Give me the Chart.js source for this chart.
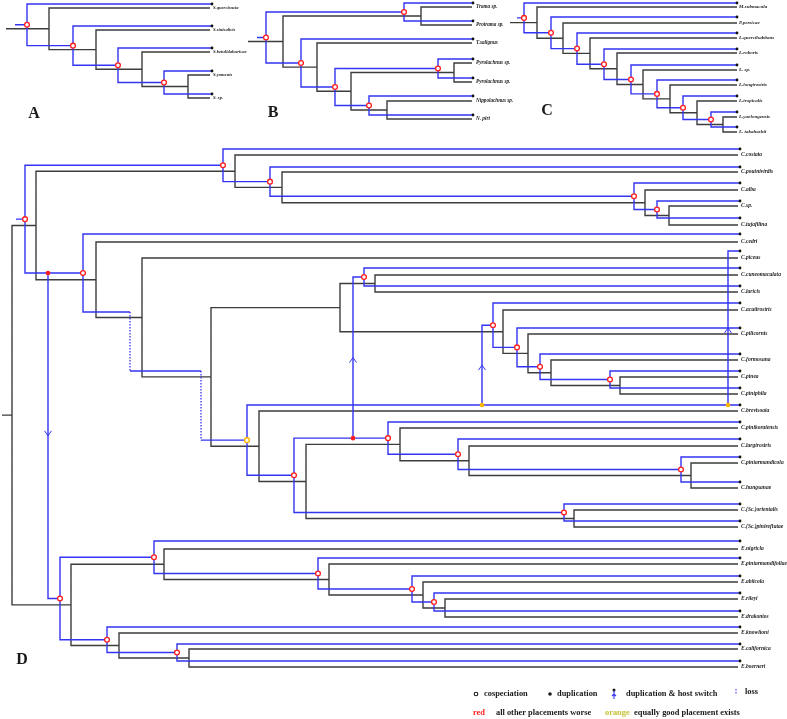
<!DOCTYPE html>
<html>
<head>
<meta charset="utf-8">
<script src="https://cdn.jsdelivr.net/npm/chart.js@4.4.0/dist/chart.umd.min.js"></script>
<style>
  html, body { margin: 0; padding: 0; background: #fff; }
  #wrap { width: 787px; height: 719px; }
</style>
</head>
<body>
<div id="wrap"><canvas id="tree" width="787" height="719"></canvas></div>
<script>
// --- Panel A ---
const aLeaves = ['S.quercisucta', 'S.sinisalicis', 'S.betulidahuricae', 'S.yomenis', 'S. sp.'];
const aHostY = [8, 30, 52, 75, 98];
const aParaY = [4, 26, 48, 71, 94];
// host tree: [nodeX, child, child]  (number = leaf index)
const aHostTree = [49, 0, [96, 1, [142, 2, [188, 3, 4]]]];
// parasite tree: [event, nodeX, child, child]
//   c = cospeciation, o = cospeciation (equally good), d = duplication & host switch,
//   s = duplication & host switch (equally good), l = loss [l, x, y, child]
const aParaTree = ['c', 27, 0, ['c', 73, 1, ['c', 118, 2, ['c', 164, 3, 4]]]];

// --- Panel B ---
const bLeaves = ['Trama sp.', 'Protrama sp.', 'T.salignus', 'Pyrolachnus sp.', 'Pyrolachnus sp.', 'Nippolachnus sp.', 'N. piri'];
const bHostY = [7, 25, 43, 63, 82, 101, 119];
const bParaY = [3, 21, 39, 59, 78, 96, 115];
const bHostTree = [283, [421, 0, 1], [317, 2, [351, [454, 3, 4], [387, 5, 6]]]];
const bParaTree = ['c', 266, ['c', 404, 0, 1], ['c', 301, 2, ['c', 335, ['c', 438, 3, 4], ['c', 369, 5, 6]]]];

// --- Panel C ---
const cLeaves = ['M.submacula', 'P.persicae', 'L.quercihabitans', 'L.roboris', 'L. sp.', 'L.longirostris', 'L.tropicalis', 'L.yaolongensis', 'L. takahashii'];
const cHostY = [7, 23, 38, 53, 70, 85, 101, 117, 132];
const cParaY = [3, 17, 33, 49, 65, 80, 96, 112, 127];
const cHostTree = [537, 0, [563, 1, [590, 2, [617, 3, [643, 4, [670, 5, [697, 6, [723, 7, 8]]]]]]]];
const cParaTree = ['c', 524, 0, ['c', 551, 1, ['c', 577, 2, ['c', 604, 3, ['c', 631, 4, ['c', 657, 5, ['c', 683, 6, ['c', 711, 7, 8]]]]]]]];

// --- Panel D ---
const dLeaves = [
  'C.costata', 'C.pouinivirdis', 'C.alba', 'C.sp.', 'C.tujafilina', 'C.cedri', 'C.piceus',
  'C.cuneomaculata', 'C.laricis', 'C.acutirostris', 'C.pilicornis', 'C.formosana', 'C.pinea',
  'C.piniphila', 'C.brevisoata', 'C.pinikoraiensis', 'C.largirostris', 'C.piniarmandicola',
  'C.hungsanae', 'C.(Sc.)orientalis', 'C.(Sc.)pinireflutae', 'E.nigricla', 'E.piniarmandifoliae',
  'E.abiicola', 'E.rileyi', 'E.drakontos', 'E.knowltoni', 'E.californica', 'E.boerneri'
];
const dHostY = [155, 172, 190, 206, 225, 242, 258, 275, 292, 310, 334, 360, 377, 394, 411,
  428, 446, 463, 488, 510, 527, 549, 564, 582, 599, 617, 633, 649, 667];
const dParaY = [149, 167, 183, 201, 218, 234, 251, 268, 286, 303, 328, 354, 371, 388, 405,
  422, 439, 457, 482, 504, 521, 541, 558, 576, 593, 611, 627, 644, 661];
const dHostTree = [12,
  [36,
    [235, 0, [282, 1, [645, 2, [669, 3, 4]]]],
    [96, 5, [142, 6, [211,
      [340, [375, 7, 8], [503, 9, [528, 10, [551, 11, [620, 12, 13]]]]],
      [259, 14, [306, [400, 15, [469, 16, [691, 17, 18]]], [574, 19, 20]]]
    ]]]
  ],
  [71,
    [164, 21, [329, 22, [423, 23, [445, 24, 25]]]],
    [119, 26, [189, 27, 28]]
  ]
];
const dParaTree = ['c', 25,
  ['c', 223, 0, ['c', 270, 1, ['c', 634, 2, ['c', 657, 3, 4]]]],
  ['d', 48,
    ['c', 83, 5, ['l', 130, 312, ['l', 201, 371,
      ['o', 247,
        ['s', 482, ['s', 728, 14, 6], ['c', 493, 9, ['c', 517, 10, ['c', 540, 11, ['c', 610, 12, 13]]]]],
        ['c', 294,
          ['d', 353, ['c', 388, 15, ['c', 458, 16, ['c', 681, 17, 18]]], ['c', 364, 7, 8]],
          ['c', 564, 19, 20]]
      ]]]],
    ['c', 60, ['c', 154, 21, ['c', 318, 22, ['c', 412, 23, ['c', 434, 24, 25]]]], ['c', 107, 26, ['c', 177, 27, 28]]]
  ]
];

// 各パネルの設定（根の開始位置・葉の終端）
const panels = [
  { letter: 'A', letterX: 34, letterY: 114, leaves: aLeaves, hostY: aHostY, paraY: aParaY, host: aHostTree, para: aParaTree,
    hostStart: 6, paraStart: 15, hostEnd: 210, paraEnd: 212, labelX: 213, font: 4.6 },
  { letter: 'B', letterX: 273, letterY: 113, leaves: bLeaves, hostY: bHostY, paraY: bParaY, host: bHostTree, para: bParaTree,
    hostStart: 248, paraStart: 257, hostEnd: 472, paraEnd: 473, labelX: 476, font: 5.2 },
  { letter: 'C', letterX: 547, letterY: 111, leaves: cLeaves, hostY: cHostY, paraY: cParaY, host: cHostTree, para: cParaTree,
    hostStart: 510, paraStart: 517, hostEnd: 737, paraEnd: 737, labelX: 739, font: 5 },
  { letter: 'D', letterX: 22, letterY: 660, leaves: dLeaves, hostY: dHostY, paraY: dParaY, host: dHostTree, para: dParaTree,
    hostStart: 2, paraStart: 16, hostEnd: 738, paraEnd: 740, labelX: 741, font: 5.5 }
];

const HOST_COLOR = '#3d3d3d';
const PARA_COLOR = '#3434f2';
const RED = '#ff1e1e';
const ORANGE = '#ffb400';

// --- build segments ---
const hostSeg = [], paraSeg = [], lossSeg = [], arrowSeg = [];
const coRed = [], coOrange = [], dupRed = [], dupOrange = [], tipDots = [];

function addPath(arr, pts) {
  pts.forEach(p => arr.push({ x: p[0], y: p[1] }));
  arr.push({ x: pts[pts.length - 1][0], y: null });
}

function layoutHost(node, ys, endX) {
  if (typeof node === 'number') return { x: endX, y: ys[node] };
  const [x, a, b] = node;
  const ka = layoutHost(a, ys, endX), kb = layoutHost(b, ys, endX);
  addPath(hostSeg, [[ka.x, ka.y], [x, ka.y], [x, kb.y], [kb.x, kb.y]]);
  return { x, y: (ka.y + kb.y) / 2 };
}

function addArrow(x, y0, y1) {
  const ym = (y0 + y1) / 2, dir = Math.sign(y1 - y0);
  addPath(arrowSeg, [[x - 3.5, ym - dir * 5], [x, ym], [x + 3.5, ym - dir * 5]]);
}

function layoutPara(node, ys, endX) {
  if (typeof node === 'number') {
    tipDots.push({ x: endX, y: ys[node] });
    return { x: endX, y: ys[node] };
  }
  const tag = node[0], x = node[1];
  if (tag === 'l') {
    const y = node[2], k = layoutPara(node[3], ys, endX);
    addPath(lossSeg, [[x, y], [x, k.y]]);
    addPath(paraSeg, [[x, k.y], [k.x, k.y]]);
    return { x, y };
  }
  const a = layoutPara(node[2], ys, endX), b = layoutPara(node[3], ys, endX);
  if (tag === 'd' || tag === 's') {
    const y = a.y;
    addPath(paraSeg, [[x, y], [a.x, y]]);
    addPath(paraSeg, [[x, y], [x, b.y], [b.x, b.y]]);
    addArrow(x, y, b.y);
    (tag === 'd' ? dupRed : dupOrange).push({ x, y });
    return { x, y };
  }
  addPath(paraSeg, [[a.x, a.y], [x, a.y], [x, b.y], [b.x, b.y]]);
  const y = (a.y + b.y) / 2;
  (tag === 'o' ? coOrange : coRed).push({ x, y });
  return { x, y };
}

panels.forEach(p => {
  const h = layoutHost(p.host, p.hostY, p.hostEnd);
  addPath(hostSeg, [[p.hostStart, h.y], [h.x, h.y]]);
  const r = layoutPara(p.para, p.paraY, p.paraEnd);
  addPath(paraSeg, [[p.paraStart, r.y], [r.x, r.y]]);
});

// --- text (leaf names, panel letters, key) ---
const textPlugin = {
  id: 'treeText',
  afterDraw(chart) {
    const { ctx, scales: { x, y } } = chart;
    const px = v => x.getPixelForValue(v), py = v => y.getPixelForValue(v);
    ctx.save();
    ctx.textBaseline = 'middle';
    ctx.fillStyle = '#1a1a1a';
    panels.forEach(p => {
      ctx.font = `italic bold ${p.font}px "Liberation Serif"`;
      p.leaves.forEach((name, i) => ctx.fillText(name, px(p.labelX), py(p.hostY[i])));
      ctx.font = 'bold 16px "Liberation Serif"';
      ctx.textAlign = 'center';
      ctx.fillText(p.letter, px(p.letterX), py(p.letterY));
      ctx.textAlign = 'left';
    });

    // key
    ctx.font = 'bold 8.4px "Liberation Serif"';
    ctx.fillStyle = '#1a1a1a';
    ctx.fillText('cospeciation', px(484), py(694));
    ctx.fillText('duplication', px(557), py(694));
    ctx.fillText('duplication & host switch', px(626), py(694));
    ctx.fillText('loss', px(745), py(692));
    ctx.fillText('all other placements worse', px(496), py(713));
    ctx.fillText('equally good placement exists', px(634), py(713));
    ctx.fillStyle = RED;
    ctx.fillText('red', px(473), py(713));
    ctx.fillStyle = '#c8c23a';
    ctx.fillText('orange', px(605), py(713));

    ctx.strokeStyle = '#1a1a1a';
    ctx.fillStyle = '#1a1a1a';
    ctx.lineWidth = 1.1;
    ctx.beginPath(); ctx.arc(px(476), py(694), 1.8, 0, Math.PI * 2); ctx.stroke();
    ctx.beginPath(); ctx.arc(px(550), py(694), 1.8, 0, Math.PI * 2); ctx.fill();
    ctx.beginPath(); ctx.arc(px(614), py(690), 1.5, 0, Math.PI * 2); ctx.fill();
    ctx.strokeStyle = PARA_COLOR;
    ctx.beginPath();
    ctx.moveTo(px(614), py(691)); ctx.lineTo(px(614), py(699));
    ctx.moveTo(px(612), py(696)); ctx.lineTo(px(614), py(694)); ctx.lineTo(px(616), py(696));
    ctx.stroke();
    ctx.setLineDash([1.5, 1.5]);
    ctx.beginPath(); ctx.moveTo(px(736), py(689)); ctx.lineTo(px(736), py(695)); ctx.stroke();
    ctx.restore();
  }
};

function lineSet(data, color, width, order, dash) {
  return {
    data, showLine: true, borderColor: color, borderWidth: width, pointRadius: 0,
    borderDash: dash || [], spanGaps: false, order, clip: false,
    borderJoinStyle: 'miter', borderCapStyle: 'butt'
  };
}
function pointSet(data, fill, border, radius, bw, order) {
  return {
    data, showLine: false, pointStyle: 'circle', pointRadius: radius, pointBackgroundColor: fill,
    pointBorderColor: border, pointBorderWidth: bw, order, clip: false
  };
}

new Chart(document.getElementById('tree'), {
  type: 'scatter',
  data: {
    datasets: [
      pointSet(coRed, '#ffffff', RED, 2.4, 1.3, 1),
      pointSet(coOrange, '#ffffff', ORANGE, 2.4, 1.3, 1),
      pointSet(dupRed, RED, RED, 2.3, 0, 1),
      pointSet(dupOrange, ORANGE, ORANGE, 2.3, 0, 1),
      pointSet(tipDots, '#111', '#111', 1.4, 0, 2),
      lineSet(arrowSeg, PARA_COLOR, 1, 3),
      lineSet(lossSeg, PARA_COLOR, 1.3, 4, [1.5, 1.5]),
      lineSet(paraSeg, PARA_COLOR, 1.4, 5),
      lineSet(hostSeg, HOST_COLOR, 1.4, 6)
    ]
  },
  options: {
    responsive: false,
    devicePixelRatio: 1,
    animation: false,
    events: [],
    layout: { padding: 0, autoPadding: false },
    plugins: { legend: { display: false }, tooltip: { enabled: false } },
    scales: {
      x: { type: 'linear', min: 0, max: 787, display: false },
      y: { type: 'linear', min: 0, max: 719, reverse: true, display: false }
    }
  },
  plugins: [textPlugin]
});
</script>
</body>
</html>
